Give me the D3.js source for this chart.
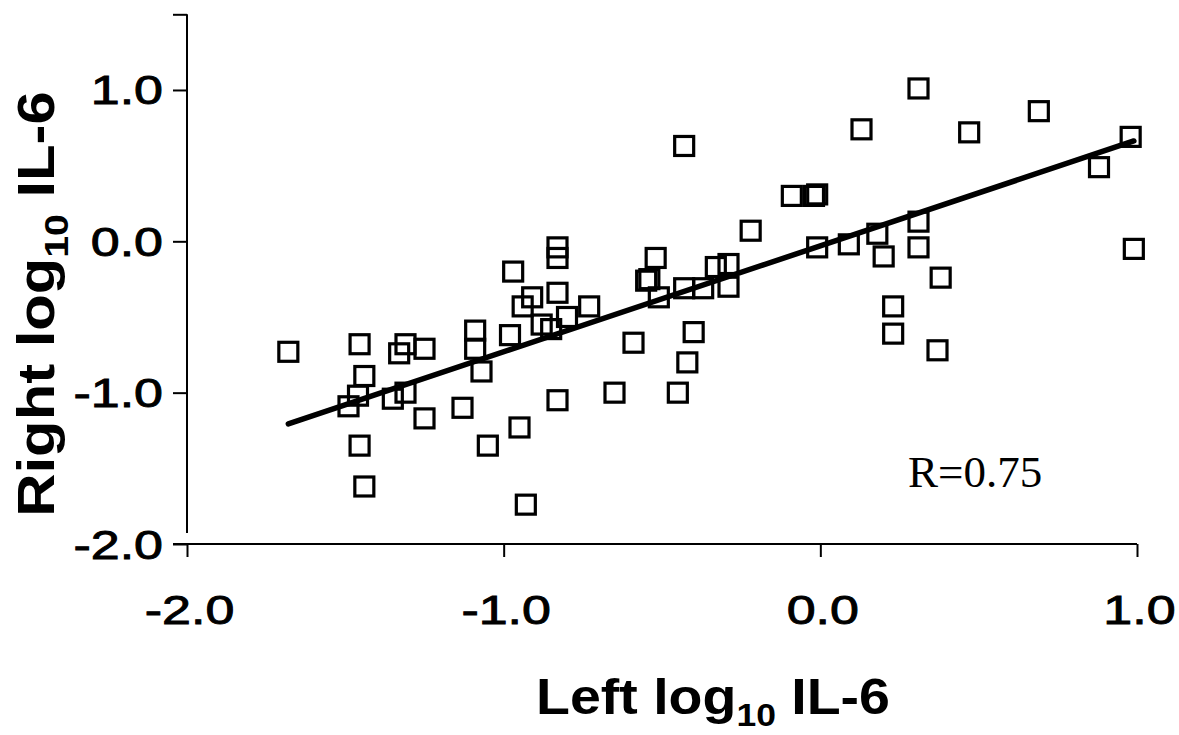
<!DOCTYPE html>
<html>
<head>
<meta charset="utf-8">
<script src="https://cdn.jsdelivr.net/npm/d3@7"></script>
<style>
  html, body { margin: 0; padding: 0; background: #fff; }
  svg { display: block; }
</style>
</head>
<body>
<svg id="chart" width="1179" height="735"></svg>
<script>
// Left vs right log10 IL-6 values, one entry per subject
const leftLog = [
  -1.68, -1.455, -1.44, -1.49, -1.46, -1.455, -1.44, -1.33, -1.31, -1.31,
  -1.35, -1.25, -1.25, -1.13, -1.09, -1.09, -1.07, -1.05, -0.97, -0.98,
  -0.95, -0.93, -0.94, -0.91, -0.88, -0.83, -0.83, -0.83, -0.85, -0.83,
  -0.80, -0.73, -0.65, -0.59, -0.55, -0.52, -0.54, -0.51, -0.43, -0.43,
  -0.42, -0.45, -0.40, -0.33, -0.37, -0.29, -0.29, -0.22, -0.09, -0.02,
  -0.01, -0.01, 0.13, 0.09, 0.18, 0.20, 0.23, 0.23, 0.31, 0.31,
  0.31, 0.38, 0.37, 0.47, 0.69, 0.88, 0.98, 0.99
];
const rightLog = [
  -0.73, -0.68, -0.89, -1.09, -1.02, -1.35, -1.62, -0.74, -0.68, -1.00,
  -1.04, -0.71, -1.17, -1.10, -0.59, -0.71, -0.86, -1.35, -0.20, -0.62,
  -1.23, -1.74, -0.43, -0.37, -0.55, -0.04, -0.11, -0.34, -0.58, -1.05,
  -0.50, -0.43, -1.00, -0.67, -0.26, -0.11, -0.25, -0.37, 0.63, -0.31,
  -0.80, -1.00, -0.60, -0.17, -0.31, -0.15, -0.30, 0.07, 0.30, 0.30,
  0.31, -0.04, 0.74, -0.02, 0.05, -0.10, -0.43, -0.61, 1.01, 0.13,
  -0.04, -0.24, -0.72, 0.72, 0.86, 0.49, 0.69, -0.05
];

// Least-squares line and its drawn extent
const fitSlope = 0.70;
const fitIntercept = -0.03;
const fitRange = [-1.68, 0.99];
const rLabel = "R=0.75";

const xTicks = [-2, -1, 0, 1];
const xTickLabels = ["-2.0", "-1.0", "0.0", "1.0"];
const yTicks = [-2, -1, 0, 1, 1.5];
const yTickLabels = ["-2.0", "-1.0", "0.0", "1.0", ""];

const svg = d3.select("#chart");
const sans = "Liberation Sans, Arial, Helvetica, sans-serif";
const tickFont = 40;
const tickStretch = 1.3;   // wide lettering for tick labels

const x = d3.scaleLinear().domain([-2, 1]).range([187, 1137]);
const y = d3.scaleLinear().domain([-2, 1.5]).range([544, 14.3]);

// Y axis
const yAxis = d3.axisLeft(y)
  .tickValues(yTicks)
  .tickFormat((d, i) => yTickLabels[i])
  .tickSize(14)
  .tickSizeOuter(0);
const gy = svg.append("g").attr("transform", "translate(187,0)").call(yAxis);
gy.select(".domain").attr("d", `M0,${y(1.5)}V533`).attr("stroke", "#000").attr("stroke-width", 2);
gy.selectAll(".tick line").attr("stroke", "#000").attr("stroke-width", 2);
gy.selectAll(".tick text")
  .attr("font-family", sans).attr("font-size", tickFont).attr("fill", "#000")
  .attr("stroke", "#000").attr("stroke-width", 0.9)
  .attr("x", 0).attr("dy", null).attr("y", 0)
  .attr("transform", `translate(-24,14) scale(${tickStretch},1)`);

// X axis
const xAxis = d3.axisBottom(x)
  .tickValues(xTicks)
  .tickFormat((d, i) => xTickLabels[i])
  .tickSize(13)
  .tickSizeOuter(0);
const gx = svg.append("g").attr("transform", "translate(0,544)").call(xAxis);
gx.select(".domain").attr("d", `M173,0H${x(1)}`).attr("stroke", "#000").attr("stroke-width", 2);
gx.selectAll(".tick line").attr("stroke", "#000").attr("stroke-width", 2);
gx.selectAll(".tick text")
  .attr("font-family", sans).attr("font-size", tickFont).attr("fill", "#000")
  .attr("stroke", "#000").attr("stroke-width", 0.9)
  .attr("y", 0).attr("dy", null)
  .attr("transform", `translate(2,80) scale(${tickStretch},1)`);

// Regression line
const fit = d3.line().x(d => x(d)).y(d => y(fitIntercept + fitSlope * d));
svg.append("path")
  .attr("d", fit(fitRange))
  .attr("fill", "none")
  .attr("stroke", "#000")
  .attr("stroke-width", 5.5)
  .attr("stroke-linecap", "round");

// Hollow square markers
const side = 19;
svg.append("g").selectAll("rect")
  .data(leftLog.map((v, i) => [v, rightLog[i]]))
  .join("rect")
  .attr("x", d => x(d[0]) - side / 2)
  .attr("y", d => y(d[1]) - side / 2)
  .attr("width", side)
  .attr("height", side)
  .attr("fill", "none")
  .attr("stroke", "#000")
  .attr("stroke-width", 3.2);

// Correlation annotation
svg.append("text")
  .attr("x", 908).attr("y", 487)
  .attr("font-family", "Liberation Serif, Times New Roman, serif")
  .attr("font-size", 45)
  .attr("fill", "#000")
  .text(rLabel);

// Axis titles
const xTitle = svg.append("text")
  .attr("transform", "translate(713,714) scale(1.11,1)")
  .attr("text-anchor", "middle")
  .attr("font-family", sans).attr("font-weight", "bold").attr("font-size", 50)
  .attr("fill", "#000");
xTitle.append("tspan").text("Left log");
xTitle.append("tspan").attr("font-size", 32).attr("dy", 12).text("10");
xTitle.append("tspan").attr("dy", -12).text(" IL-6");

const yTitle = svg.append("text")
  .attr("transform", "translate(54,304) rotate(-90) scale(1.15,1)")
  .attr("text-anchor", "middle")
  .attr("font-family", sans).attr("font-weight", "bold").attr("font-size", 52)
  .attr("fill", "#000");
yTitle.append("tspan").text("Right log");
yTitle.append("tspan").attr("font-size", 34).attr("dy", 14).text("10");
yTitle.append("tspan").attr("dy", -14).text(" IL-6");
</script>
</body>
</html>
